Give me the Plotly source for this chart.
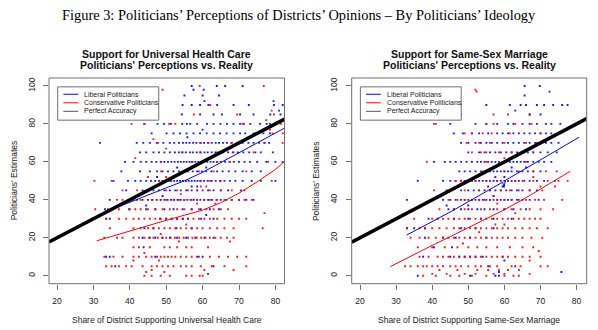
import plotly.graph_objects as go

# ---------------------------------------------------------------------------
# Data: politicians' estimates (y, in rows of 5-point steps) vs. district share
# (x).  Each dict maps an estimate to the district shares recorded at it.
# ---------------------------------------------------------------------------

# Universal health care - liberal politicians
UHC_LIB = {
    100: [57, 63.9, 66.2, 71],
    98: [57.5, 60.3],
    95: [55, 60, 64.5],
    92: [60.5, 79.5],
    90: [54.5, 57, 59.3, 61.6, 64, 68.5, 72.7, 79.6, 82],
    87: [81],
    85: [54.3, 59.3, 63, 65.3, 70.3, 74, 78.6, 81.4],
    80: [44, 47.6, 49.4, 51.3, 54.4, 55.7, 56.6, 58.5, 61.2, 63, 64.9, 66.7, 68.5, 70.3, 71.3, 73.1, 75.8, 77.6, 78.5],
    77: [60],
    75: [46, 50.1, 52, 53.8, 55.6, 57.5, 59.3, 61.1, 63, 64.8, 66.6, 68.5, 70.3, 71.7, 74, 76.7, 78.5],
    73: [55.8],
    70: [31.8, 41.9, 43.7, 45.5, 47.4, 49.2, 51, 52.2, 53.5, 54.6, 55.5, 56.4, 57.4, 58.3, 59.5, 60.4, 61.5, 62.5,
         63.6, 64.5, 65.6, 66.7, 68, 69.5, 71, 72.6, 74, 75.5, 77, 78.3],
    65: [42.8, 44.5, 46.5, 48, 49.5, 51, 52.4, 53.5, 54.5, 55.4, 56.5, 57.3, 58.4, 59.5, 60.5, 61.4, 62.5, 63.5,
         64.6, 65.7, 67, 68.3, 69.7, 71.2, 72.8, 74.5, 76, 79.3],
    60: [38.7, 41, 43, 44.5, 46, 47.3, 48.5, 49.5, 50.5, 51.4, 52.3, 53.2, 54, 54.8, 55.6, 56.4, 57.2, 58, 58.8,
         59.6, 60.5, 61.3, 62.2, 63, 64, 65, 66.2, 67.4, 68.6, 70, 71.5, 73, 75, 77.5, 80, 82],
    57: [53, 61],
    55: [37.7, 42.8, 45.5, 47.5, 49, 50.5, 52, 53.5, 54.8, 56, 57.3, 58.5, 59.8, 61, 62.4, 64, 65.5, 67.2, 69, 71,
         73.5, 76],
    52: [47.5],
    50: [35.5, 39.5, 41.5, 43, 44.5, 45.8, 47, 48, 49, 49.8, 50.6, 51.4, 52.2, 53, 53.8, 54.6, 55.4, 56.2, 57,
         57.8, 58.6, 59.5, 60.4, 61.4, 62.5, 63.6, 64.8, 66, 67.5, 69, 71, 73.5, 76, 80],
    47: [57, 58.5],
    45: [39, 43.5, 45, 46.5, 48, 49.5, 51, 52.5, 54, 55.5, 57, 58.5, 60, 61.5, 63, 65, 67, 70.5],
    42: [49],
    40: [34.5, 40.5, 42, 43.5, 45, 46.2, 47.4, 48.5, 49.5, 50.4, 51.3, 52.2, 53.1, 54, 54.9, 55.8, 56.7, 57.6,
         58.5, 59.4, 60.4, 61.5, 62.6, 63.8, 65, 66.5, 68, 70, 72, 74],
    37: [44.5],
    35: [33.2, 39.8, 44.5, 47, 49.5, 52, 54.5, 57, 59.5, 62, 64.5],
    32: [61],
    30: [33.5, 34.5, 48.3, 50, 51.5, 53, 54.6, 56, 59.6, 63],
    25: [44, 46.5, 52.8, 57],
    20: [43.5, 45.5, 47, 49, 51, 53, 55.5, 58, 60.5, 63],
    15: [43.8],
    10: [33.5, 34.5, 47, 58.5, 60],
    5: [36, 63],
    1: [61.5],
}

# Universal health care - conservative politicians
UHC_CON = {
    100: [59.2, 76.8],
    98: [49],
    90: [47.4, 62.1],
    87: [79],
    85: [57.6, 69.5, 79.6],
    82: [77.5],
    80: [40.5, 44, 50.8, 52.5, 71, 81.5],
    77: [78.5],
    75: [74.8, 79.2, 82],
    72: [46.5],
    70: [47.8, 59.3, 61.6, 67.9, 77, 82],
    67: [50],
    65: [54.3, 59.3, 64, 68.5, 74],
    62: [41.5],
    60: [48.6, 57, 64, 67.5, 78],
    55: [48.6, 55.5, 59, 63, 72],
    52: [45, 50],
    50: [30.3, 35, 48, 51, 55.5, 59.3, 62, 65, 79],
    47: [59.5, 61],
    45: [38, 42, 50, 53, 56, 58.5, 62, 65, 68, 71.5],
    43: [54],
    40: [36.5, 38, 41, 43, 46, 48.5, 50, 52, 53.5, 55, 57, 58.5, 60.5, 62, 64, 66, 68, 70, 71.5, 73.5],
    38: [58.5, 63.5],
    35: [30.5, 34, 37, 40, 41.5, 43, 45, 47, 49, 51, 53, 55, 57, 59, 61, 63, 65, 67],
    33: [77],
    30: [29.5, 33.5, 37, 39, 41, 42.5, 44, 45.5, 47, 48.5, 50, 51.5, 53, 54.5, 56, 57.5, 59, 60.5, 62, 64, 66,
         68, 70, 72],
    27: [55.5],
    25: [34.5, 41, 43, 45, 46.5, 48, 49.5, 51, 52.5, 54, 55.5, 57, 58.5, 60, 62, 64, 66, 68.5, 76.5],
    22: [48.5],
    20: [33, 36.5, 38, 41, 42.5, 44, 45.3, 46.5, 47.7, 48.9, 50, 51.2, 52.4, 53.6, 54.8, 56, 57.2, 58.4, 59.6,
         60.8, 62, 63.5, 65, 66.7, 68.5],
    18: [53.5, 67.5],
    15: [41, 42.5, 45.5, 49.5, 51, 53, 55.5, 57, 61.5],
    12: [44],
    10: [33, 35.5, 38, 41, 42.5, 44.5, 46, 47.5, 48.5, 49.5, 50.5, 51.5, 52.5, 54, 55.5, 57, 59, 62, 64.5, 67,
         69.5, 72],
    8: [41, 48],
    5: [33.5, 35, 37, 39, 40.5, 43.5, 46, 47.5, 49, 50.5, 52, 54, 55.5, 57, 59.5, 62.5, 66, 72],
    3: [46, 60.5, 68.5],
    2: [44.5, 49.5],
    0: [44, 46, 48.5, 51, 55.5, 57, 59.2, 60],
}

# Same-sex marriage - liberal politicians
SSM_LIB = {
    100: [65.6, 69.8],
    97: [72.5],
    95: [65.6],
    90: [55, 61.5, 64.5, 66, 69, 71, 73.5, 76, 77.5],
    87: [63],
    85: [48, 67, 70],
    80: [45, 52, 55, 58, 61, 62.5, 65, 67, 69, 71.5, 73, 75.5, 79.5],
    75: [46, 48.5, 51, 53, 55.5, 58, 59.5, 61, 62.5, 64, 65.5, 67, 68.5, 70, 71.5, 73, 75],
    70: [48, 50, 52, 53.5, 55, 56.5, 58, 59.5, 61, 62.5, 64, 65.5, 67, 68.5, 70, 71.5, 73, 75],
    65: [50, 53, 54.5, 56, 57.5, 59, 60.5, 62, 63.5, 65, 66.5, 68, 70, 72, 74.5],
    60: [40.5, 43.5, 45, 46.5, 48, 49.5, 51, 52.5, 53.5, 54.5, 55.5, 56.5, 57.5, 58.5, 59.5, 60.5, 61.5, 62.5,
         63.5, 64.5, 65.5, 66.5, 68, 69.5, 71, 73],
    57: [57, 62, 66],
    55: [47.5, 49, 50.5, 52, 53.5, 55, 56, 57, 58, 59, 60, 61, 62, 63.5, 65, 66.5, 68, 70],
    52: [57.5, 60],
    50: [36, 43, 45, 46.5, 48, 49, 50, 51, 52, 53, 54, 55, 56, 57, 58, 59, 60, 61, 62, 63, 64, 65.5, 67, 69, 71,
         74],
    47: [55.5, 59.5],
    45: [44, 48, 50, 51.5, 53, 54.5, 56, 57.5, 59, 60.5, 62, 63.5, 65, 67, 69],
    42: [57],
    40: [33, 43, 45, 46.5, 48, 49, 50, 51, 52, 53, 54, 55, 56, 57, 58, 59, 60, 61, 62, 63.5, 65, 67, 69.5],
    37: [44, 50],
    35: [44.5, 46, 48, 50, 52.5, 54.5, 57, 60, 62.5, 66],
    30: [39, 41.5, 46, 50, 53.5, 57, 62],
    25: [33, 35, 38, 48, 52, 57],
    20: [38, 43, 46.5, 50.5, 55],
    15: [40.5, 45.5],
    10: [37.5, 45, 47.5, 49, 50.5, 52, 54, 59.5],
    8: [60],
    5: [55.5, 63],
    2: [58.5, 75.8],
    0: [36, 50.5, 57.5, 58.5],
}

# Same-sex marriage - conservative politicians
SSM_CON = {
    98: [52],
    97: [52.3],
    90: [37.5, 48],
    85: [57, 61, 67],
    80: [40.5, 41, 55, 57, 63, 67.5],
    75: [49, 51, 54, 56.5, 61.5, 70],
    70: [49.5, 53, 56, 60, 66, 69],
    65: [51, 53.5, 55, 58.5, 62, 64.5, 68],
    62: [60],
    60: [38.5, 55, 60.5, 66],
    55: [54, 60, 64, 68, 71.5, 74.5],
    52: [68],
    50: [46.5, 48, 52, 55, 58, 61, 63, 65, 68, 72, 75, 77.5],
    47: [70, 74],
    45: [40.5, 49, 53, 56, 59, 61.5, 64, 67, 70.5],
    42: [57],
    40: [44.5, 47, 49, 51, 53, 54.5, 56, 58, 60, 62, 64, 66, 68.5, 71, 76],
    38: [58],
    35: [42, 46, 49, 51, 53.5, 56, 58, 60, 62, 64.5, 67, 70, 73.5],
    33: [63],
    30: [35, 40, 43, 44.5, 46, 47.5, 49, 50.5, 52, 53.5, 55, 56.5, 58, 59.5, 61, 62.5, 64, 65.5, 67, 68.5, 70],
    27: [57.5, 60],
    25: [33, 36.5, 38, 40, 42, 44, 46, 47.5, 49, 50.5, 52, 53.5, 55, 56.5, 58, 59.5, 61, 63, 65, 67, 69, 72],
    23: [53],
    20: [34, 36.5, 39, 41, 43, 44.5, 46, 47.5, 49, 50.5, 52, 53.5, 55, 56.5, 58, 59.5, 61, 63, 65, 67.5, 70.5],
    17: [48.5],
    15: [36, 40, 43.5, 47, 50, 52.5, 55, 58, 61.5, 65, 68],
    13: [69.5],
    10: [36.5, 39, 41.5, 43, 44.5, 46, 47.5, 49, 50.5, 52, 53.5, 55, 56.5, 58, 59.5, 61, 63, 65, 67, 70],
    8: [67],
    5: [32.5, 34, 36, 37.5, 38.5, 40, 41.5, 43, 45, 46.5, 48, 50, 52, 53.5, 56, 58, 62, 64.5, 70, 72],
    3: [42, 47, 52.5, 55.5, 58.5, 61, 64],
    1: [40, 44, 49, 52, 57, 60, 67],
    0: [37.5, 41, 45, 47.5, 51, 55, 60, 62.5, 64],
}

# Smoothed (lowess) fits
UHC_LIB_FIT_X = [34.5, 40, 45, 50, 55, 60, 65, 70, 75, 80, 82.4]
UHC_LIB_FIT_Y = [34.5, 38.5, 42.5, 46.3, 50, 54.5, 59.5, 64.8, 70, 75.2, 77.7]
UHC_CON_FIT_X = [30.9, 35, 40, 45, 50, 55, 60, 65, 70, 75, 80, 82.4]
UHC_CON_FIT_Y = [18.4, 20.8, 23.7, 26.3, 29.2, 31.9, 34.5, 38.5, 43.5, 49.5, 56, 60]
SSM_LIB_FIT_X = [32.9, 35, 40, 45, 50, 55, 59.5, 59.9, 60.3, 65, 70, 75, 80.7]
SSM_LIB_FIT_Y = [21.4, 23.5, 28.5, 33.6, 39, 44.3, 49.3, 46.5, 50.3, 55.5, 61, 66.5, 73]
SSM_CON_FIT_X = [28.4, 35, 40, 45, 50, 55, 60, 65, 70, 75, 78.2]
SSM_CON_FIT_Y = [4.8, 11.3, 16, 20.6, 25.3, 30, 34.8, 40, 45.6, 51.3, 55]

X_TICKS = [20, 30, 40, 50, 60, 70, 80]
Y_TICKS = [0, 20, 40, 60, 80, 100]

TITLES = [
    ("Support for Universal Health Care", "Politicians' Perceptions vs. Reality"),
    ("Support for Same-Sex Marriage", "Politicians' Perceptions vs. Reality"),
]
X_LABELS = [
    "Share of District Supporting Universal Health Care",
    "Share of District Supporting Same-Sex Marriage",
]
Y_LABEL = "Politicians' Estimates"
MAIN_TITLE = "Figure 3: Politicians\u2019 Perceptions of Districts\u2019 Opinions \u2013 By Politicians\u2019 Ideology"
LEGEND_LABELS = ["Liberal Politicians", "Conservative Politicians", "Perfect Accuracy"]

# ---------------------------------------------------------------------------
SANS = "Liberation Sans, Arial, Helvetica, sans-serif"
SERIF = "Liberation Serif, Times New Roman, Times, serif"
BLUE = "#0000FF"
RED = "#FF0000"
BLACK = "#000000"
FRAME = "#707070"
TEXT = "#1a1a1a"

W, H = 598, 330


def flatten(rows):
    xs, ys = [], []
    for y, xlist in rows.items():
        for x in xlist:
            xs.append(x)
            ys.append(y)
    return xs, ys


panels = [
    dict(lib=UHC_LIB, con=UHC_CON,
         lib_fit=(UHC_LIB_FIT_X, UHC_LIB_FIT_Y), con_fit=(UHC_CON_FIT_X, UHC_CON_FIT_Y),
         xrange=[17.8, 82.5], px=(49, 284.5)),
    dict(lib=SSM_LIB, con=SSM_CON,
         lib_fit=(SSM_LIB_FIT_X, SSM_LIB_FIT_Y), con_fit=(SSM_CON_FIT_X, SSM_CON_FIT_Y),
         xrange=[17.7, 82.8], px=(351.7, 586.7)),
]
Y_RANGE = [-4.2, 104.2]
PY_TOP, PY_BOT = 78, 283.7

fig = go.Figure()
shapes = []
annotations = []
layout_axes = {}

for i, p in enumerate(panels):
    n = "" if i == 0 else str(i + 1)
    xa, ya = "x" + n, "y" + n
    lx, ly = flatten(p["lib"])
    cx, cy = flatten(p["con"])
    mk = dict(symbol="square", size=1.9, line=dict(width=0))
    fig.add_trace(go.Scatter(x=lx, y=ly, mode="markers", xaxis=xa, yaxis=ya,
                             marker=dict(color=BLUE, opacity=0.9, **mk), showlegend=False))
    fig.add_trace(go.Scatter(x=cx, y=cy, mode="markers", xaxis=xa, yaxis=ya,
                             marker=dict(color=RED, opacity=0.9, **mk), showlegend=False))
    fig.add_trace(go.Scatter(x=p["lib_fit"][0], y=p["lib_fit"][1], mode="lines", xaxis=xa, yaxis=ya,
                             line=dict(color=BLUE, width=1), showlegend=False))
    fig.add_trace(go.Scatter(x=p["con_fit"][0], y=p["con_fit"][1], mode="lines", xaxis=xa, yaxis=ya,
                             line=dict(color=RED, width=1), showlegend=False))
    # perfect accuracy: estimate equals district share
    fig.add_trace(go.Scatter(x=p["xrange"], y=p["xrange"], mode="lines", xaxis=xa, yaxis=ya,
                             line=dict(color=BLACK, width=3.6), showlegend=False))

    x0, x1 = p["px"]
    dom_x = [x0 / W, x1 / W]
    dom_y = [1 - PY_BOT / H, 1 - PY_TOP / H]
    layout_axes["xaxis" + n] = dict(
        domain=dom_x, range=p["xrange"], anchor=ya, tickvals=X_TICKS, ticks="outside",
        ticklen=5, tickwidth=1, tickcolor=FRAME, showgrid=False, zeroline=False, showline=False,
        tickfont=dict(family=SANS, size=8.5, color=TEXT), ticklabelstandoff=4, fixedrange=True)
    layout_axes["yaxis" + n] = dict(
        domain=dom_y, range=Y_RANGE, anchor=xa, tickvals=Y_TICKS, ticks="outside",
        ticklen=5, tickwidth=1, tickcolor=FRAME, showgrid=False, zeroline=False, showline=False,
        tickangle=-90, tickfont=dict(family=SANS, size=8.5, color=TEXT), ticklabelstandoff=5,
        fixedrange=True)

    # plot frame
    shapes.append(dict(type="rect", xref=xa + " domain", yref=ya + " domain", x0=0, x1=1, y0=0, y1=1,
                       line=dict(color=FRAME, width=1)))

    cxp = (x0 + x1) / 2 / W
    t1, t2 = TITLES[i]
    annotations.append(dict(text="<b>%s</b>" % t1, x=cxp, y=1 - 53.5 / H, xref="paper", yref="paper",
                            showarrow=False, xanchor="center", yanchor="middle",
                            font=dict(family=SANS, size=10.5, color="#111")))
    annotations.append(dict(text="<b>%s</b>" % t2, x=cxp, y=1 - 65.3 / H, xref="paper", yref="paper",
                            showarrow=False, xanchor="center", yanchor="middle",
                            font=dict(family=SANS, size=10.5, color="#111")))
    annotations.append(dict(text=X_LABELS[i], x=cxp, y=1 - 319.5 / H, xref="paper", yref="paper",
                            showarrow=False, xanchor="center", yanchor="middle",
                            font=dict(family=SANS, size=8.5, color=TEXT)))
    annotations.append(dict(text=Y_LABEL, x=(x0 - 35.5) / W, y=1 - (PY_TOP + PY_BOT) / 2 / H,
                            xref="paper", yref="paper", showarrow=False, textangle=-90,
                            xanchor="center", yanchor="middle",
                            font=dict(family=SANS, size=8.5, color=TEXT)))

    # legend box in the upper-left corner of each panel
    xd, yd = xa + " domain", ya + " domain"
    shapes.append(dict(type="rect", xref=xd, yref=yd, x0=0.037, x1=0.466, y0=0.795, y1=0.957,
                       line=dict(color=FRAME, width=1), fillcolor="white"))
    for k, (lab, col) in enumerate(zip(LEGEND_LABELS, [BLUE, RED, "#555555"])):
        yy = 0.921 - k * 0.0415
        shapes.append(dict(type="line", xref=xd, yref=yd, x0=0.061, x1=0.124, y0=yy, y1=yy,
                           line=dict(color=col, width=1)))
        annotations.append(dict(text=lab, xref=xd, yref=yd, x=0.142, y=yy, showarrow=False,
                                xanchor="left", yanchor="middle",
                                font=dict(family=SANS, size=7, color=TEXT)))

annotations.append(dict(text=MAIN_TITLE, x=0.5, y=1 - 15 / H, xref="paper", yref="paper",
                        showarrow=False, xanchor="center", yanchor="middle",
                        font=dict(family=SERIF, size=14.4, color="#000")))

fig.update_layout(
    width=W, height=H, margin=dict(l=0, r=0, t=0, b=0),
    paper_bgcolor="white", plot_bgcolor="white",
    showlegend=False, shapes=shapes, annotations=annotations, **layout_axes)

fig.write_html("out.html", config={"displayModeBar": False})
